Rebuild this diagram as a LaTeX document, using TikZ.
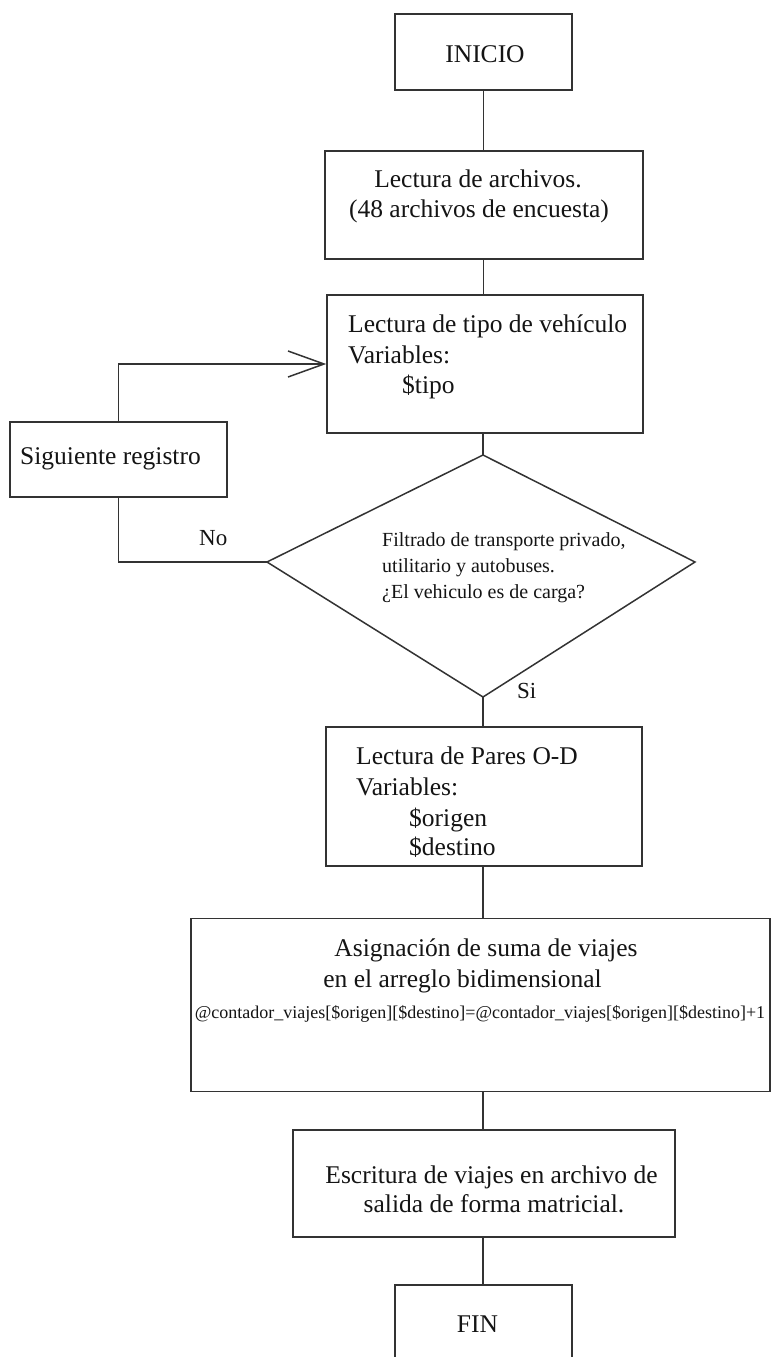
\documentclass[tikz,border=0pt]{standalone}
\usepackage{fontspec}
\setmainfont{Liberation Serif}
\usetikzlibrary{arrows.meta}
\definecolor{linec}{HTML}{333333}
\definecolor{txtc}{HTML}{141414}
\begin{document}
\begin{tikzpicture}[x=1pt,y=-1pt,
  box/.style={draw=linec, line width=1.5pt, rectangle, inner sep=0pt, fill=white},
  conn/.style={draw=linec, line width=1.5pt},
  big/.style={inner sep=0pt, text=txtc, font=\fontsize{25.5}{30.5}\selectfont},
  mid/.style={inner sep=0pt, text=txtc, font=\fontsize{23}{27}\selectfont},
  small/.style={inner sep=0pt, text=txtc, font=\fontsize{20}{26}\selectfont},
  tiny/.style={inner sep=0pt, text=txtc, font=\fontsize{18}{22}\selectfont},
  lft/.style={anchor=base west},
  ctr/.style={anchor=base}
]
\useasboundingbox (0,0) rectangle (773,1357);
\clip (0,0) rectangle (773,1357);

% boxes
\node[box, minimum width=177pt, minimum height=76pt] (inicio) at (483.5,52) {};
\node[box, minimum width=318pt, minimum height=108pt] (arch) at (484,205) {};
\node[box, minimum width=316pt, minimum height=138pt] (tipo) at (485,364) {};
\node[box, minimum width=217pt, minimum height=75pt] (sig) at (118.5,459.5) {};
\node[box, minimum width=316pt, minimum height=139pt] (pares) at (484,796.5) {};
\node[box, minimum width=579pt, minimum height=173pt] (asig) at (480.5,1005) {};
\node[box, minimum width=382pt, minimum height=107pt] (escr) at (484,1183.5) {};
\node[box, minimum width=177pt, minimum height=85pt] (fin) at (483.5,1327.5) {};

% decision
\coordinate (dT) at (483,455);
\coordinate (dL) at (267,562);
\coordinate (dR) at (695,562);
\coordinate (dB) at (483,697);
\draw[conn, line join=miter] (dT) -- (dR) -- (dB) -- (dL) -- cycle;

% connectors
\draw[conn] (inicio.south) -- (inicio.south |- arch.north);
\draw[conn] (arch.south -| inicio.south) -- (inicio.south |- tipo.north);
\draw[conn] (tipo.south -| dT) -- (dT);
\draw[conn] (dB) -- (dB |- pares.north);
\draw[conn] (pares.south -| dB) -- (dB |- asig.north);
\draw[conn] (asig.south -| dB) -- (dB |- escr.north);
\draw[conn] (escr.south -| dB) -- (dB |- fin.north);
\draw[conn, -{Straight Barb[length=36pt,width=26pt]}] (sig.north) |- (tipo.west);
\draw[conn] (sig.south) |- (dL);

% texts
\node[big, ctr] (tInicio) at (485,62) {INICIO};
\node[big, ctr] (tArch1) at (478,187) {Lectura de archivos.};
\node[big, ctr] (tArch2) at (479,217) {(48 archivos de encuesta)};
\node[big, lft] (tTipo1) at (348,332) {Lectura de tipo de vehículo};
\node[big, lft] (tTipo2) at (348,363) {Variables:};
\node[big, lft] (tTipo3) at (402,393) {\$tipo};
\node[big, lft] (tSig) at (20,464) {Siguiente registro};
\node[mid, lft] (tNo) at (199,545) {No};
\node[small, lft] (tD1) at (382,546) {Filtrado de transporte privado,};
\node[small, lft] (tD2) at (382,572) {utilitario y autobuses.};
\node[small, lft] (tD3) at (382,598) {¿El vehiculo es de carga?};
\node[mid, lft] (tSi) at (517,698) {Si};
\node[big, lft] (tP1) at (356,764) {Lectura de Pares O-D};
\node[big, lft] (tP2) at (356,795) {Variables:};
\node[big, lft] (tP3) at (409,826) {\$origen};
\node[big, lft] (tP4) at (409,855) {\$destino};
\node[big, ctr] (tA1) at (486,956) {Asignación de suma de viajes};
\node[big, ctr] (tA2) at (462.5,987) {en el arreglo bidimensional};
\node[tiny, ctr] (tA3) at (480,1018) {@contador\_viajes[\$origen][\$destino]=@contador\_viajes[\$origen][\$destino]+1};
\node[big, ctr] (tE1) at (491.5,1183) {Escritura de viajes en archivo de};
\node[big, ctr] (tE2) at (494,1212) {salida de forma matricial.};
\node[big, ctr] (tFin) at (477.5,1332) {FIN};
\end{tikzpicture}
\end{document}
